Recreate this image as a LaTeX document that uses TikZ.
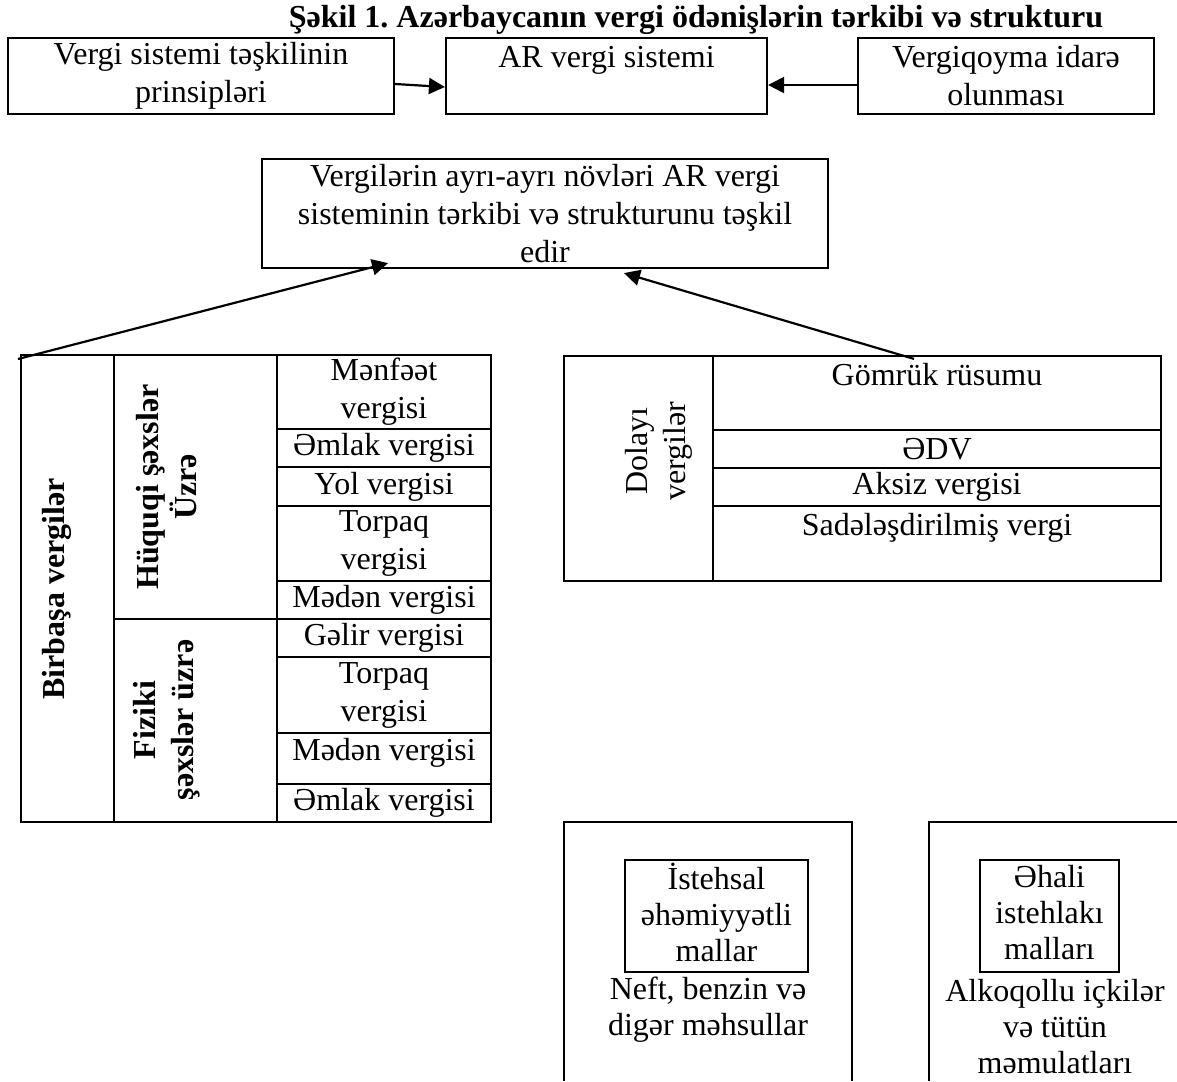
\documentclass[tikz,border=0pt]{standalone}
\usepackage{fontspec}
\setmainfont{Liberation Serif}
\usetikzlibrary{arrows.meta}
\frenchspacing

\begin{document}
\begin{tikzpicture}[x=0.5pt, y=-0.5pt, line width=1.1pt,
  >={Triangle[length=8pt,width=8pt]},
  font=\fontsize{16}{19}\selectfont,
  box/.style={draw, align=center, inner sep=0pt},
  cell/.style={draw, align=center, inner sep=0pt, minimum width=107pt},
  rcell/.style={draw, align=center, inner sep=0pt, minimum width=224pt},
  side/.style={align=center, rotate=90, inner sep=0pt},
  goods/.style={draw, align=center, inner sep=0pt, minimum height=56pt, font=\fontsize{16}{18}\selectfont}]

\useasboundingbox (0,0) rectangle (1177,1081);

\node[font=\fontsize{16}{19}\selectfont\bfseries] (title) at (696,20) {Şəkil 1. Azərbaycanın vergi ödənişlərin tərkibi və strukturu};

\node[box, minimum width=193pt, minimum height=38pt] (princ) at (201,76) {Vergi sistemi təşkilinin\\prinsipləri};
\node[box, minimum width=160.5pt, minimum height=38pt] (system) at (606.5,76) {AR vergi sistemi\\\mbox{}};
\node[box, minimum width=148pt, minimum height=38pt] (admin) at (1006,76) {Vergiqoyma idarə\\olunması};

\draw[->] ([yshift=-4pt]princ.east) -- ([yshift=-5.5pt]system.west);
\draw[->] ([yshift=-4.5pt]admin.west) -- ([yshift=-4.5pt]system.east);

\node[box, minimum width=283pt, minimum height=54.5pt] (kinds) at (545,213.5) {Vergilərin ayrı-ayrı növləri AR vergi\\sisteminin tərkibi və strukturunu təşkil\\edir};

\node[draw, minimum width=46.5pt, minimum height=233.5pt] (direct) at (67.5,588.5) {};
\node[side, font=\fontsize{16}{19}\selectfont\bfseries] (directlbl) at (57,589) {Birbaşa vergilər};

\node[draw, minimum width=81.5pt, minimum height=132pt] (legal) at (195.5,487) {};
\node[side, font=\fontsize{16}{19}\selectfont\bfseries] (legallbl) at (167,487) {Hüquqi şəxslər\\Üzrə};
\node[draw, minimum width=81.5pt, minimum height=101.5pt] (natural) at (195.5,720.5) {};
\node[side, font=\fontsize{16}{19}\selectfont\bfseries] (naturallbl) at (167,720) {Fiziki\\şəxslər üzrə};

\node[cell, minimum height=37pt] (profit) at (384,392) {Mənfəət\\vergisi};
\node[cell, minimum height=19pt] (property) at (384,448) {Əmlak vergisi};
\node[cell, minimum height=19.5pt] (road) at (384,486.5) {Yol vergisi};
\node[cell, minimum height=37.5pt] (land) at (384,543.5) {Torpaq\\vergisi};
\node[cell, minimum height=19pt] (mining) at (384,600) {Mədən vergisi};
\node[cell, minimum height=19pt] (income) at (384,638) {Gəlir vergisi};
\node[cell, minimum height=38pt] (landb) at (384,695) {Torpaq\\vergisi};
\node[cell, minimum height=25.5pt, text depth=9pt] (miningb) at (384,758.5) {Mədən vergisi};
\node[cell, minimum height=19pt] (propertyb) at (384,803) {Əmlak vergisi};

\node[draw, minimum width=74.5pt, minimum height=112.5pt] (indirect) at (638.5,468.5) {};
\node[side] (indirectlbl) at (659,451) {Dolayı\\vergilər};

\node[rcell, minimum height=37pt] (customs) at (937,393) {Gömrük rüsumu\\\mbox{}};
\node[rcell, minimum height=19pt] (vat) at (937,449) {ƏDV};
\node[rcell, minimum height=19pt] (excise) at (937,487) {Aksiz vergisi};
\node[rcell, minimum height=37.5pt] (simple) at (937,543.5) {Sadələşdirilmiş vergi\\\mbox{}};

\coordinate (directTail) at (18,359);
\draw[->] (directTail) -- ([shift={(-78.5pt,3pt)}]kinds.south);
\draw[->] ([shift={(-11.5pt,-2pt)}]customs.north) -- ([shift={(39.5pt,-2pt)}]kinds.south);

\draw (564,1081) -- (564,822) -- (852,822) -- (852,1081);
\draw (929,1081) -- (929,822) -- (1177,822);

\node[goods, minimum width=91.5pt] (industrial) at (716.5,916) {İstehsal\\əhəmiyyətli\\mallar\vphantom{g}};
\node[goods, minimum width=69.5pt] (consumer) at (1049.5,916) {Əhali\\istehlakı\\malları\vphantom{g}};

\node[align=center, inner sep=0pt, font=\fontsize{16}{18}\selectfont] (industrialex) at (708,1010) {Neft, benzin və\\digər məhsullar};
\node[align=center, inner sep=0pt, font=\fontsize{16}{18}\selectfont] (consumerex) at (1055,1027) {Alkoqollu içkilər\\və tütün\\məmulatları};

\end{tikzpicture}
\end{document}
